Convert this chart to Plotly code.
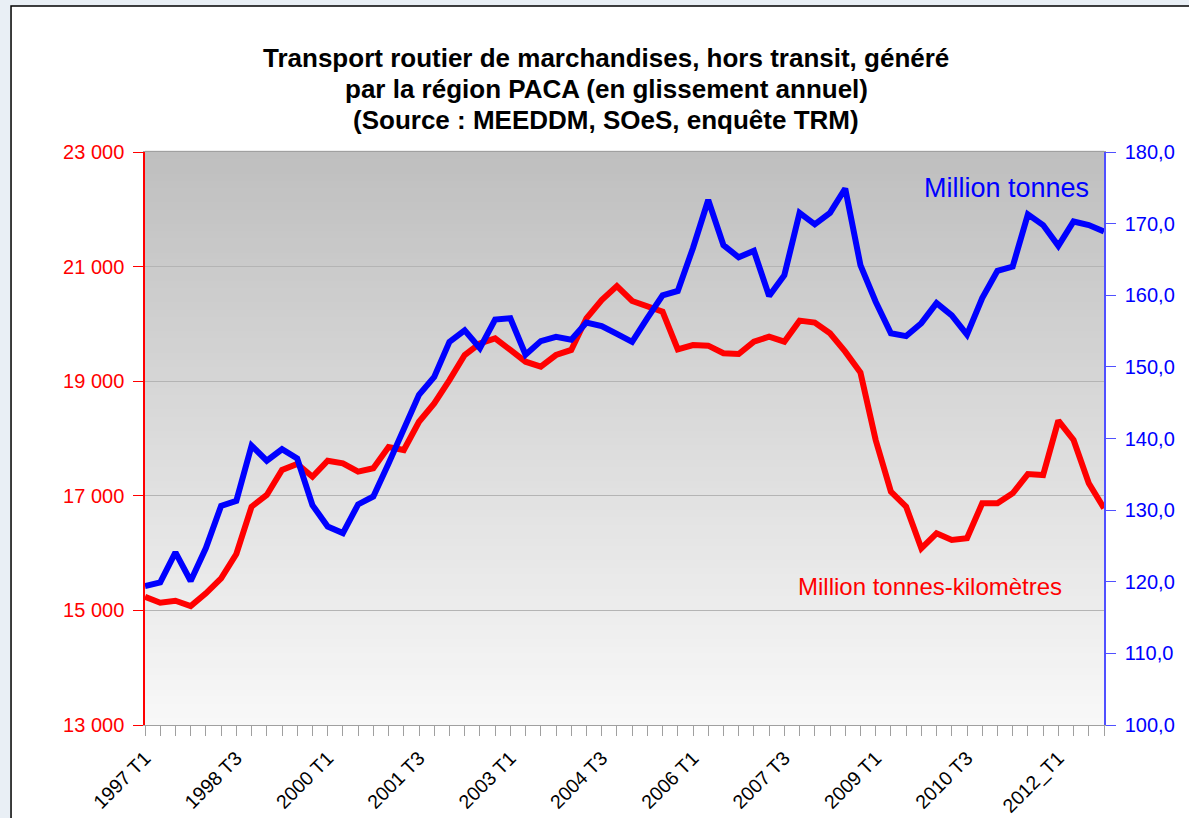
import plotly.graph_objects as go

# quarters 1997 T1 .. 2012 T4
quarters = [f'{y} T{q}' for y in range(1997, 2012) for q in range(1, 5)] + \
           ['2012_T1', '2012_T2', '2012_T3', '2012_T4']

tonnes_km = [15239, 15134, 15169, 15077, 15298, 15560, 15984, 16810, 17014, 17450,
             17555, 17333, 17613, 17567, 17421, 17480, 17850, 17799, 18293, 18613,
             19020, 19457, 19661, 19748, 19545, 19340, 19253, 19457, 19545, 20098,
             20417, 20661, 20400, 20300, 20213, 19557, 19632, 19620, 19487, 19475,
             19690, 19777, 19690, 20057, 20022, 19836, 19515, 19150, 17974, 17072,
             16810, 16084, 16346, 16229, 16258, 16869, 16869, 17044, 17380, 17363,
             18311, 17974, 17219, 16783]

tonnes = [119.4, 119.9, 124.1, 120.1, 124.7, 130.6, 131.3, 139.0, 136.9, 138.5,
          137.2, 130.7, 127.7, 126.8, 130.8, 131.9, 136.5, 141.2, 146.1, 148.6,
          153.5, 155.1, 152.6, 156.6, 156.8, 151.7, 153.6, 154.2, 153.8, 156.2,
          155.7, 154.6, 153.5, 156.8, 160.0, 160.6, 166.6, 173.3, 167.0, 165.3,
          166.2, 159.9, 162.8, 171.5, 169.9, 171.5, 174.9, 164.2, 159.1, 154.7,
          154.3, 156.1, 158.9, 157.2, 154.5, 159.6, 163.4, 164.0, 171.3, 169.8,
          166.9, 170.3, 169.8, 168.9]

tick_labels = [q if i % 6 == 0 else '' for i, q in enumerate(quarters)]

title_lines = ['Transport routier de marchandises, hors transit, généré',
               'par la région PACA (en glissement annuel)',
               '(Source : MEEDDM, SOeS, enquête TRM)']

FONT = 'Liberation Sans, Arial, sans-serif'

fig = go.Figure()
fig.add_trace(go.Scatter(x=quarters, y=tonnes_km, mode='lines', name='Million tonnes-kilomètres',
                         line=dict(color='#ff0000', width=6), yaxis='y'))
fig.add_trace(go.Scatter(x=quarters, y=tonnes, mode='lines', name='Million tonnes',
                         line=dict(color='#0000ff', width=6), yaxis='y2'))

# frame of the chart and the grey gradient of the plot area
shapes = [dict(type='rect', xref='paper', yref='paper', x0=-0.1397, x1=1.1, y0=-0.1832, y1=1.2548,
               fillcolor='white', line=dict(color='black', width=1.5), layer='below')]
n = 80
for k in range(n):
    t = k / (n - 1)
    c = int(round(248 - (248 - 191) * t))
    shapes.append(dict(type='rect', xref='paper', yref='paper', x0=0, x1=1,
                       y0=k / n, y1=(k + 1) / n + 0.002,
                       fillcolor=f'rgb({c},{c},{c})', line=dict(width=0), layer='below'))

annotations = []
for line, py in zip(title_lines, [58, 89, 120]):
    annotations.append(dict(text=f'<b>{line}</b>', xref='paper', yref='paper',
                            x=(606 - 145) / 959, y=(725 - py) / 573,
                            xanchor='center', yanchor='middle', showarrow=False,
                            font=dict(family=FONT, size=26, color='black')))
annotations += [
    dict(text='Million tonnes', xref='paper', yref='paper', x=(1091 - 145) / 959,
         y=(725 - 188) / 573, xanchor='right', yanchor='middle', showarrow=False,
         font=dict(family=FONT, size=27, color='#0000ff')),
    dict(text='Million tonnes-kilomètres', xref='paper', yref='paper',
         x=(1064 - 145) / 959, y=(725 - 586.5) / 573, xanchor='right', yanchor='middle',
         showarrow=False, font=dict(family=FONT, size=24, color='#ff0000')),
]

fig.update_layout(
    width=1189, height=818,
    margin=dict(l=145, r=85, t=152, b=93),
    paper_bgcolor='#e9eff5',
    plot_bgcolor='#f0f0f0',
    separators=', ',
    showlegend=False,
    font=dict(family=FONT, size=20, color='black'),
    shapes=shapes,
    annotations=annotations,
    xaxis=dict(type='category', range=[0, 63], tickmode='array', tickvals=quarters,
               ticktext=tick_labels, tickangle=-45, ticks='outside', ticklen=10,
               ticklabelstandoff=3, automargin=False,
               tickcolor='#a0a0a0', showline=True, linecolor='#a0a0a0', linewidth=1,
               mirror=True, showgrid=False, tickfont=dict(size=19.5, color='black')),
    yaxis=dict(range=[13000, 23000], dtick=2000, tick0=13000, tickformat=',d',
               showline=True, linecolor='#ff0000', linewidth=1.5, ticks='outside',
               ticklen=10, ticklabelstandoff=5, automargin=False,
               tickcolor='#ff0000', showgrid=True, gridcolor='#b4b4b4',
               gridwidth=1, zeroline=False, tickfont=dict(size=20, color='#ff0000')),
    yaxis2=dict(range=[100, 180], dtick=10, tickformat='.1f', overlaying='y', side='right',
                showline=True, linecolor='#5050ff', linewidth=1.5, ticks='outside',
                ticklen=10, ticklabelstandoff=5, automargin=False,
                tickcolor='#5050ff', showgrid=False, zeroline=False,
                tickfont=dict(size=20, color='#0000ff')),
)

fig.write_html('out.html', config={'displayModeBar': False},
               post_script="document.body.style.margin='0';")
